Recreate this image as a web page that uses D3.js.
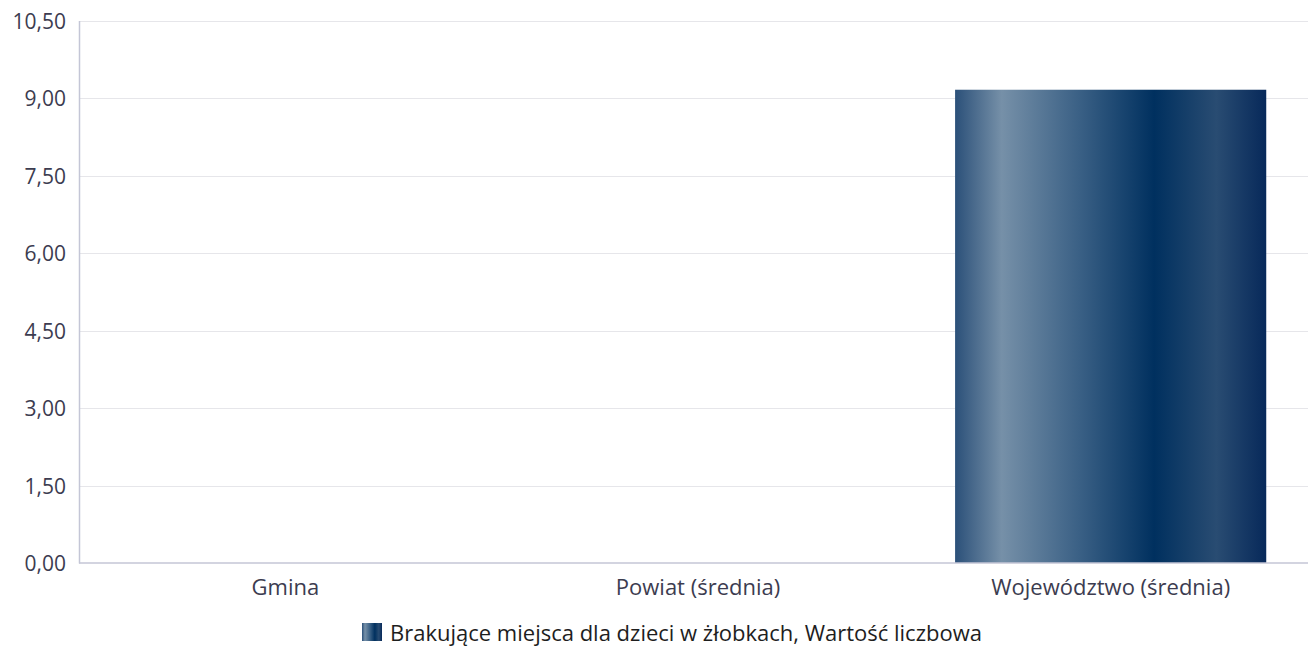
<!DOCTYPE html>
<html lang="pl">
<head>
<meta charset="UTF-8">
<title>Brakujące miejsca dla dzieci w żłobkach</title>
<script src="https://cdn.jsdelivr.net/npm/d3@7"></script>
<style>
    body { margin: 0; background: #fff; }
    svg { display: block; font-family: "Open Sans", "Noto Sans", sans-serif; }
    .tick text { fill: #3c3c50; }
</style>
</head>
<body>
<svg width="1308" height="649"></svg>
<script>
var categories = ["Gmina", "Powiat (średnia)", "Województwo (średnia)"];
var values = [null, null, 9.16];
var yTicks = [0, 1.5, 3, 4.5, 6, 7.5, 9, 10.5];
var seriesName = "Brakujące miejsca dla dzieci w żłobkach, Wartość liczbowa";

var svg = d3.select("svg");
var plotLeft = 79, plotTop = 20.5, plotBottom = 563;
var font = '"Open Sans", "Noto Sans", sans-serif';

var x = d3.scaleBand().domain(categories).range([plotLeft, 1317]).paddingInner(0.246).paddingOuter(0.123);
var y = d3.scaleLinear().domain([0, 10.5]).range([plotBottom, plotTop]);

// gradient for bars
var defs = svg.append("defs");
function grad(id) {
    var g = defs.append("linearGradient").attr("id", id)
        .attr("x1", "0%").attr("x2", "100%").attr("y1", "0%").attr("y2", "0%");
    [[0, "#2b5079"], [0.15, "#7690a8"], [0.4, "#3a6085"], [0.64, "#00305f"], [0.84, "#294c72"], [1, "#07295a"]]
        .forEach(function (s) { g.append("stop").attr("offset", s[0]).attr("stop-color", s[1]); });
}
grad("barGrad");
grad("legGrad");

// grid
svg.append("g").selectAll("line").data(yTicks.slice(1)).enter().append("line")
    .attr("x1", plotLeft).attr("x2", 1308)
    .attr("y1", function (d) { return Math.round(y(d)) + 0.5; })
    .attr("y2", function (d) { return Math.round(y(d)) + 0.5; })
    .attr("stroke", "#e6e6ea");

// bars
svg.append("g").selectAll("rect").data(values.map(function (v, i) { return {c: categories[i], v: v}; })
    .filter(function (d) { return d.v != null; }))
    .enter().append("rect")
    .attr("x", function (d) { return x(d.c); })
    .attr("width", x.bandwidth())
    .attr("y", function (d) { return y(d.v); })
    .attr("height", function (d) { return y(0) - y(d.v); })
    .attr("fill", "url(#barGrad)");

// axes
var yAxis = svg.append("g").attr("transform", "translate(" + plotLeft + ",0)")
    .call(d3.axisLeft(y).tickValues(yTicks).tickSize(0).tickPadding(13)
        .tickFormat(function (d) { return d3.format(".2f")(d).replace(".", ","); }))
    .attr("font-family", font).attr("font-size", 21);
yAxis.select(".domain").attr("stroke", "#c4c6d6").attr("stroke-width", 1.5);
yAxis.selectAll(".tick text").attr("dy", "0.36em");

var xAxis = svg.append("g").attr("transform", "translate(0," + plotBottom + ")")
    .call(d3.axisBottom(x).tickSize(0).tickPadding(16))
    .attr("font-family", font).attr("font-size", 22);
xAxis.select(".domain").attr("stroke", "#c4c6d6").attr("stroke-width", 1.5)
    .attr("d", "M" + plotLeft + ",0H1308");
xAxis.selectAll(".tick text").attr("dy", "0.71em");

// legend
var lg = svg.append("g").attr("transform", "translate(362,623)");
lg.append("rect").attr("width", 20).attr("height", 18).attr("fill", "url(#legGrad)");
lg.append("text").attr("x", 28).attr("y", 17.5).attr("font-family", font).attr("font-size", 22)
    .attr("fill", "#1e1e1e").text(seriesName);
</script>
</body>
</html>
